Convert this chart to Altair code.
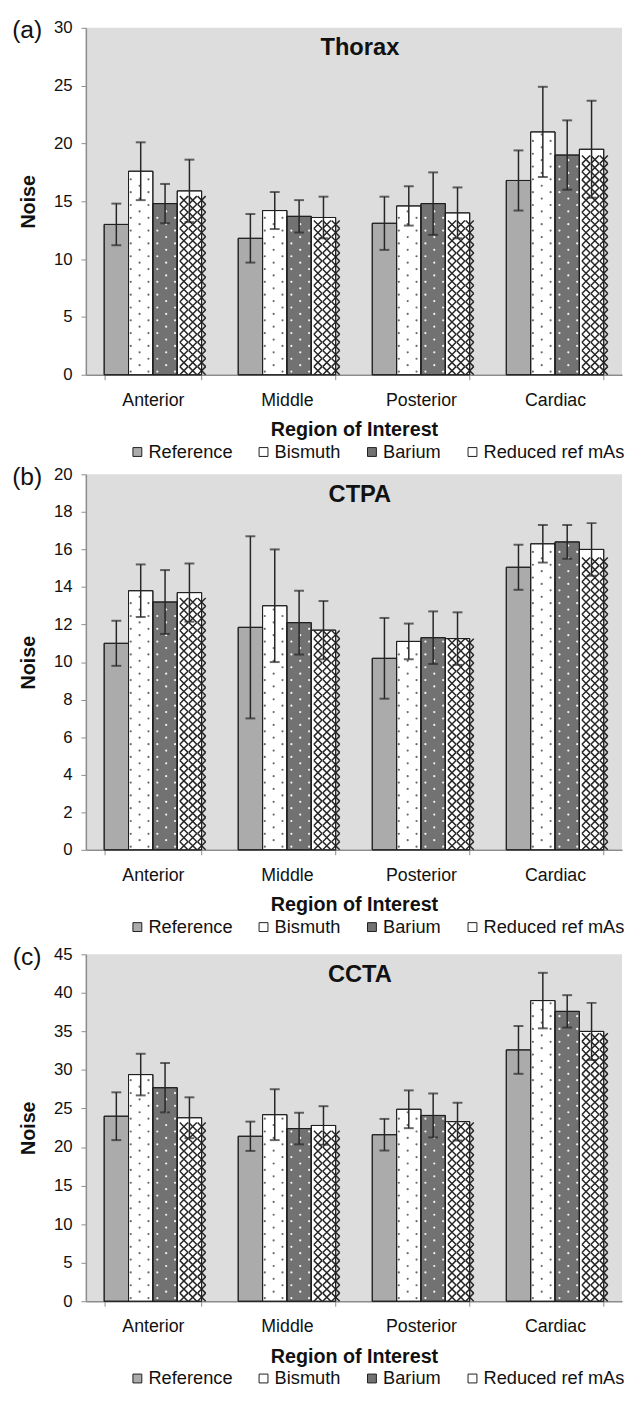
import altair as alt
import pandas as pd

REGIONS = ["Anterior", "Middle", "Posterior", "Cardiac"]
GROUPS = ["Reference", "Bismuth", "Barium", "Reduced ref mAs"]

# rows follow GROUPS, columns follow REGIONS
THORAX_MEAN = [[13.0, 11.8, 13.1, 16.8],
               [17.6, 14.2, 14.6, 21.0],
               [14.8, 13.7, 14.8, 19.0],
               [15.9, 13.6, 14.0, 19.5]]
THORAX_SD = [[1.8, 2.1, 2.3, 2.6],
             [2.5, 1.6, 1.7, 3.9],
             [1.7, 1.4, 2.7, 3.0],
             [2.7, 1.8, 2.2, 4.2]]

CTPA_MEAN = [[11.0, 11.85, 10.2, 15.05],
             [13.8, 13.0, 11.1, 16.3],
             [13.2, 12.1, 11.3, 16.4],
             [13.7, 11.7, 11.25, 16.0]]
CTPA_SD = [[1.2, 4.85, 2.15, 1.2],
           [1.4, 3.0, 0.95, 1.0],
           [1.7, 1.7, 1.4, 0.9],
           [1.55, 1.55, 1.4, 1.4]]

CCTA_MEAN = [[24.0, 21.4, 21.6, 32.6],
             [29.4, 24.2, 24.9, 39.0],
             [27.7, 22.4, 24.1, 37.6],
             [23.8, 22.8, 23.3, 35.0]]
CCTA_SD = [[3.1, 1.9, 2.05, 3.1],
           [2.7, 3.3, 2.45, 3.6],
           [3.2, 2.05, 2.85, 2.1],
           [2.65, 2.5, 2.45, 3.7]]

FONT = "Liberation Sans"
WIDTH = 544
PAD_INNER = 0.273
BAR_PX = WIDTH / 4 * (1 - PAD_INNER) / 4
CELL_PX = BAR_PX / 3
DOT_PITCH = 6.5
COLORS = ["#ababab", "#ffffff", "#727272", "#ffffff"]
INK = "#1e1e1e"


def bar_table(means, sds):
    rows = []
    for gi, g in enumerate(GROUPS):
        for ri, r in enumerate(REGIONS):
            m = means[gi][ri]
            s = sds[gi][ri]
            rows.append({"region": r, "group": g, "mean": m, "lo": m - s, "hi": m + s})
    return pd.DataFrame(rows)


def texture_table(means, ppu):
    rows = []
    for gi, g in enumerate(GROUPS):
        for ri, r in enumerate(REGIONS):
            hpx = means[gi][ri] * ppu
            if g == "Reduced ref mAs":
                n = int(hpx // CELL_PX)
                for i in range(n):
                    for c in range(3):
                        rows.append({"region": r, "slot": gi * 3 + c,
                                     "ty": (i + 0.5) * CELL_PX / ppu, "kind": "hatch"})
            elif g in ("Bismuth", "Barium"):
                kind = "dark" if g == "Bismuth" else "light"
                i = 0
                while (i + 0.5) * DOT_PITCH < hpx - 2:
                    cols = (0, 2) if i % 2 == 0 else (1,)
                    for c in cols:
                        rows.append({"region": r, "slot": gi * 3 + c,
                                     "ty": (i + 0.5) * DOT_PITCH / ppu, "kind": kind})
                    i += 1
    return pd.DataFrame(rows)


def panel(letter, name, means, sds, ymax, step, height, letter_y):
    ppu = height / ymax
    bars = bar_table(means, sds)
    tex = texture_table(means, ppu)

    yscale = alt.Scale(domain=[0, ymax], nice=False, zero=True)
    yaxis = alt.Axis(values=list(range(0, ymax + 1, step)), grid=False,
                     domainColor="#8c8c8c", tickColor="#8c8c8c", domainWidth=1.5,
                     tickSize=5, labelFontSize=17, labelPadding=9,
                     titleFontSize=20, titleFontWeight="bold", titlePadding=15)
    xaxis = alt.Axis(labelAngle=0, tickBand="extent", grid=False,
                     domainColor="#8c8c8c", tickColor="#8c8c8c", domainWidth=1.5,
                     tickSize=5, labelFontSize=18, labelPadding=12,
                     titleFontSize=20, titleFontWeight="bold", titlePadding=11)
    xenc = alt.X("region:N", sort=REGIONS,
                 scale=alt.Scale(paddingInner=PAD_INNER, paddingOuter=PAD_INNER / 2),
                 axis=xaxis, title="Region of Interest")
    goff = alt.XOffset("group:N", sort=GROUPS,
                       scale=alt.Scale(domain=GROUPS, paddingInner=0, paddingOuter=0))
    soff = alt.XOffset("slot:O",
                       scale=alt.Scale(domain=list(range(12)), paddingInner=0, paddingOuter=0))

    def yenc(field):
        return alt.Y(field, scale=yscale, axis=yaxis, title="Noise")

    base = alt.Chart(bars)
    fills = base.mark_bar(stroke=INK, strokeWidth=1).encode(
        x=xenc, xOffset=goff, y=yenc("mean:Q"),
        fill=alt.Fill("group:N", sort=GROUPS,
                      scale=alt.Scale(domain=GROUPS, range=COLORS),
                      legend=alt.Legend(orient="none", legendX=43, legendY=height + 69,
                                        direction="horizontal", columns=4, columnPadding=22,
                                        symbolType="square", symbolSize=81,
                                        symbolStrokeColor=INK, symbolStrokeWidth=1,
                                        labelFontSize=18.5, labelFont=FONT, labelColor="#111",
                                        labelOffset=2, labelLimit=300, title=None, padding=0)))

    tbase = alt.Chart(tex)
    dark = tbase.transform_filter("datum.kind == 'dark'").mark_point(
        shape="circle", filled=True, size=5, color="#6a6a6a", opacity=1).encode(
        x=xenc, xOffset=soff, y=yenc("ty:Q"))
    light = tbase.transform_filter("datum.kind == 'light'").mark_point(
        shape="circle", filled=True, size=5, color="#f4f4f4", opacity=1).encode(
        x=xenc, xOffset=soff, y=yenc("ty:Q"))
    hatch = tbase.transform_filter("datum.kind == 'hatch'").mark_point(
        shape="M-1,-1L1,1M-1,1L1,-1", filled=False, size=CELL_PX ** 2,
        color="#262626", strokeWidth=1.5, opacity=1).encode(
        x=xenc, xOffset=soff, y=yenc("ty:Q"))

    outline = base.mark_bar(fillOpacity=0, stroke=INK, strokeWidth=1).encode(
        x=xenc, xOffset=goff, y=yenc("mean:Q"))
    rules = base.mark_rule(color="#262626", strokeWidth=1.5).encode(
        x=xenc, xOffset=goff, y=yenc("lo:Q"), y2="hi:Q")
    caps = base.transform_fold(["lo", "hi"], as_=["end", "v"]).mark_tick(
        color="#262626", thickness=2, size=10).encode(
        x=xenc, xOffset=goff, y=yenc("v:Q"))

    letter_t = alt.Chart(pd.DataFrame({"t": [f"({letter})"]})).mark_text(
        font=FONT, fontSize=25, align="center", baseline="middle", color="#111").encode(
        text="t:N", x=alt.value(-59.5), y=alt.value(letter_y))
    title_t = alt.Chart(pd.DataFrame({"t": [name]})).mark_text(
        font=FONT, fontSize=24, fontWeight="bold", align="center", baseline="middle",
        color="#111").encode(text="t:N", x=alt.value(278), y=alt.value(21))

    return alt.layer(fills, dark, light, hatch, outline, rules, caps, letter_t, title_t).resolve_scale(
        xOffset="independent").properties(width=WIDTH, height=height)


a = panel("a", "Thorax", THORAX_MEAN, THORAX_SD, 30, 5, 352, 2)
b = panel("b", "CTPA", CTPA_MEAN, CTPA_SD, 20, 2, 381, 3)
c = panel("c", "CCTA", CCTA_MEAN, CCTA_SD, 45, 5, 352, 3)

top_pair = alt.vconcat(a, b, spacing=4).resolve_scale(fill="independent")
chart = alt.vconcat(top_pair, c, spacing=9).resolve_scale(fill="independent").configure(
    padding={"left": 4, "top": 0, "right": 0, "bottom": -3}, font=FONT
).configure_view(stroke=None, fill="#dddddd").configure_axis(
    labelFont=FONT, titleFont=FONT, labelColor="#111", titleColor="#111"
)

chart.save("out.html", embed_options={"renderer": "svg", "actions": False})
